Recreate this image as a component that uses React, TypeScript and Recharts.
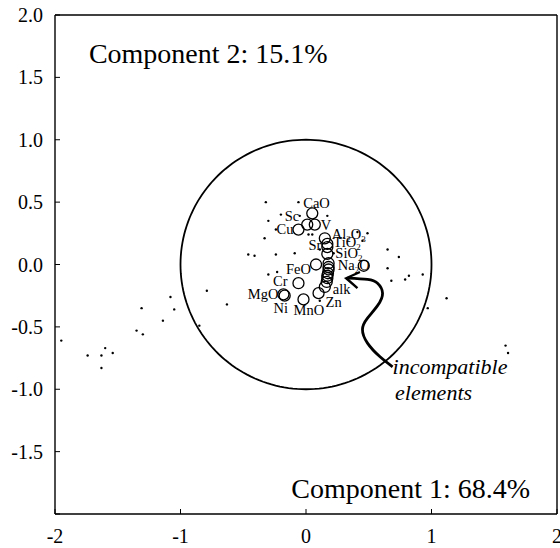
import React from 'react';
import { ScatterChart, Scatter, XAxis, YAxis } from 'recharts';

const FONT = '"Liberation Serif", "Times New Roman", serif';

// axis ticks
const xTicks = [-2, -1, 0, 1, 2];
const yTicks = [-2, -1.5, -1, -0.5, 0, 0.5, 1, 1.5, 2];

// sample scores (small dots)
const sampleX = [
  -1.95, -1.74, -1.63, -1.6, -1.54, -1.63, -1.35, -1.3, -1.31, -1.14, -1.08, -1.05, -0.85, -0.79, -0.63,
  0.49, 0.45, 0.41, 0.65, 0.74, 0.65, 0.68, 0.79, 0.82, 0.93, 1.12, 0.97, 1.59, 1.61,
  -0.32, -0.06, -0.2, -0.3, 0.17, -0.33, -0.46, -0.41, -0.24, -0.09, -0.3, -0.23, -0.24, 0.02, 0.05, -0.05, 0.11, 0.22, 0.11,
];
const sampleY = [
  -0.61, -0.73, -0.73, -0.67, -0.71, -0.83, -0.53, -0.56, -0.35, -0.45, -0.26, -0.36, -0.49, -0.21, -0.32,
  0.25, 0.19, 0.26, 0.12, 0.06, -0.03, -0.13, -0.12, -0.09, -0.08, -0.27, -0.35, -0.65, -0.71,
  0.5, 0.5, 0.4, 0.35, 0.39, 0.21, 0.08, 0.07, 0.08, 0.09, -0.08, -0.06, 0.28, 0.24, 0.24, 0.39, -0.29, 0.09, 0.12,
];

// variable loadings (open circles)
const variableNames = [
  'CaO', 'Sc', 'V', 'Cu', 'Al2O3', 'TiO2', 'Sr', 'SiO2', 'Na2O', 'FeO', 'Cr', 'MgO', 'Ni', 'MnO', 'Zn', 'alk',
  '', '', '', '', '', '', '',
];
const variableX = [
  0.05, 0.01, 0.07, -0.06, 0.15, 0.17, 0.17, 0.17, 0.46, 0.08, -0.06, -0.18, -0.17, -0.02, 0.1, 0.15,
  0.18, 0.18, 0.18, 0.175, 0.17, 0.17, 0.165,
];
const variableY = [
  0.41, 0.32, 0.32, 0.28, 0.21, 0.165, 0.14, 0.085, -0.01, 0.0, -0.15, -0.24, -0.25, -0.28, -0.23, -0.18,
  0.01, -0.02, -0.04, -0.07, -0.09, -0.11, -0.14,
];

// unit correlation circle
const circleRadius = 1;

// annotation arrow
const arrowX = [0.69, 0.59, 0.49, 0.45, 0.49, 0.57, 0.61, 0.57, 0.49, 0.33];
const arrowY = [-0.82, -0.74, -0.63, -0.52, -0.43, -0.33, -0.23, -0.15, -0.12, -0.11];
const arrowHeadX = [0.43, 0.32, 0.41];
const arrowHeadY = [-0.06, -0.11, -0.19];

// text notes
const noteTexts = ['Component 2: 15.1%', 'Component 1: 68.4%', 'incompatible', 'elements'];
const noteX = [-1.73, 1.785, 0.69, 0.71];
const noteY = [1.615, -1.87, -0.88, -1.09];

const samples = sampleX.map((x, i) => ({ x, y: sampleY[i] }));
const variables = variableNames.map((name, i) => ({ name, x: variableX[i], y: variableY[i] }));
const circlePoints = Array.from({ length: 181 }, (_, i) => {
  const t = (i / 180) * 2 * Math.PI;
  return { x: circleRadius * Math.cos(t), y: circleRadius * Math.sin(t) };
});
const arrow = arrowX.map((x, i) => ({ x, y: arrowY[i] }));
const arrowHead = arrowHeadX.map((x, i) => ({ x, y: arrowHeadY[i] }));
const notes = noteTexts.map((text, i) => ({ text, x: noteX[i], y: noteY[i] }));

const labelOffsets: Record<string, { dx: number; dy: number; anchor: string }> = {
  CaO: { dx: -9, dy: -5, anchor: 'start' },
  Sc: { dx: -8, dy: -4, anchor: 'end' },
  V: { dx: 6, dy: 5, anchor: 'start' },
  Cu: { dx: -5, dy: 4, anchor: 'end' },
  Al2O3: { dx: 7, dy: 1, anchor: 'start' },
  TiO2: { dx: 6, dy: 3, anchor: 'start' },
  Sr: { dx: -6, dy: 3, anchor: 'end' },
  SiO2: { dx: 8, dy: 4, anchor: 'start' },
  Na2O: { dx: -26, dy: 4, anchor: 'start' },
  FeO: { dx: -5, dy: 9, anchor: 'end' },
  Cr: { dx: -11, dy: 3, anchor: 'end' },
  MgO: { dx: -5, dy: 5, anchor: 'end' },
  Ni: { dx: -4, dy: 17, anchor: 'middle' },
  MnO: { dx: -10, dy: 16, anchor: 'start' },
  Zn: { dx: 7, dy: 14, anchor: 'start' },
  alk: { dx: 8, dy: 7, anchor: 'start' },
};

const noteStyles: Record<string, { anchor: string; size: number; italic: boolean }> = {
  'Component 2: 15.1%': { anchor: 'start', size: 28, italic: false },
  'Component 1: 68.4%': { anchor: 'end', size: 28, italic: false },
  incompatible: { anchor: 'start', size: 22, italic: true },
  elements: { anchor: 'start', size: 22, italic: true },
};

// digits in oxide names become subscripts
const renderChem = (name: string) => {
  const parts = name.split(/(\d)/).filter((s) => s !== '');
  let shifted = false;
  return parts.map((part, i) => {
    if (/\d/.test(part)) {
      shifted = true;
      return (
        <tspan key={i} fontSize={9} dy={3}>
          {part}
        </tspan>
      );
    }
    const dy = shifted ? -3 : 0;
    shifted = false;
    return (
      <tspan key={i} dy={dy}>
        {part}
      </tspan>
    );
  });
};

const SampleDot = (p: any) => <circle cx={p.cx} cy={p.cy} r={1.2} fill="#000" />;

const VariableMark = (p: any) => {
  const name = p.payload.name;
  const o = labelOffsets[name];
  return (
    <g>
      <circle cx={p.cx} cy={p.cy} r={5.5} fill="none" stroke="#000" strokeWidth={1.3} />
      {o && (
        <text x={p.cx + o.dx} y={p.cy + o.dy} textAnchor={o.anchor} fontSize={14.5} fontFamily={FONT} fill="#000">
          {renderChem(name)}
        </text>
      )}
    </g>
  );
};

const NoteText = (p: any) => {
  const s = noteStyles[p.payload.text];
  return (
    <text
      x={p.cx}
      y={p.cy}
      textAnchor={s.anchor}
      fontSize={s.size}
      fontStyle={s.italic ? 'italic' : 'normal'}
      fontFamily={FONT}
      fill="#000"
    >
      {p.payload.text}
    </text>
  );
};

const Empty = () => <g />;

export default function App() {
  const tickStyle = { fill: '#000', fontSize: 20, fontFamily: FONT };
  return (
    <div style={{ position: 'absolute', left: 0, top: 0, background: '#fff' }}>
      <ScatterChart width={560} height={548} margin={{ top: 14, right: 2, bottom: 0, left: 0 }}>
        <XAxis
          type="number"
          dataKey="x"
          domain={[-2, 2]}
          ticks={xTicks}
          interval={0}
          allowDataOverflow
          height={34}
          tickSize={-5}
          tickMargin={20}
          stroke="#000"
          axisLine={{ stroke: '#000', strokeWidth: 1.4 }}
          tick={tickStyle}
        />
        <XAxis
          xAxisId="top"
          orientation="top"
          type="number"
          domain={[-2, 2]}
          ticks={xTicks}
          interval={0}
          allowDataOverflow
          height={1}
          tickSize={-5}
          stroke="#000"
          axisLine={{ stroke: '#000', strokeWidth: 1.4 }}
          tick={false}
        />
        <YAxis
          type="number"
          dataKey="y"
          domain={[-2, 2]}
          ticks={yTicks}
          interval={0}
          allowDataOverflow
          width={55}
          tickSize={-5}
          tickMargin={17}
          stroke="#000"
          axisLine={{ stroke: '#000', strokeWidth: 1.4 }}
          tick={tickStyle}
          tickFormatter={(v: number) => (v === -2 ? '' : v.toFixed(1))}
        />
        <YAxis
          yAxisId="right"
          orientation="right"
          type="number"
          domain={[-2, 2]}
          ticks={yTicks}
          interval={0}
          allowDataOverflow
          width={1}
          tickSize={-5}
          stroke="#000"
          axisLine={{ stroke: '#000', strokeWidth: 1.4 }}
          tick={false}
        />
        <Scatter
          data={circlePoints}
          fill="none"
          line={{ stroke: '#000', strokeWidth: 1.8 }}
          shape={Empty}
          isAnimationActive={false}
        />
        <Scatter data={samples} fill="#000" shape={SampleDot} isAnimationActive={false} />
        <Scatter data={variables} fill="none" shape={VariableMark} isAnimationActive={false} />
        <Scatter
          data={arrow}
          fill="none"
          line={{ stroke: '#000', strokeWidth: 2.8 }}
          lineJointType="natural"
          shape={Empty}
          isAnimationActive={false}
        />
        <Scatter
          data={arrowHead}
          fill="none"
          line={{ stroke: '#000', strokeWidth: 2.4 }}
          shape={Empty}
          isAnimationActive={false}
        />
        <Scatter data={notes} fill="#000" shape={NoteText} isAnimationActive={false} />
      </ScatterChart>
    </div>
  );
}
